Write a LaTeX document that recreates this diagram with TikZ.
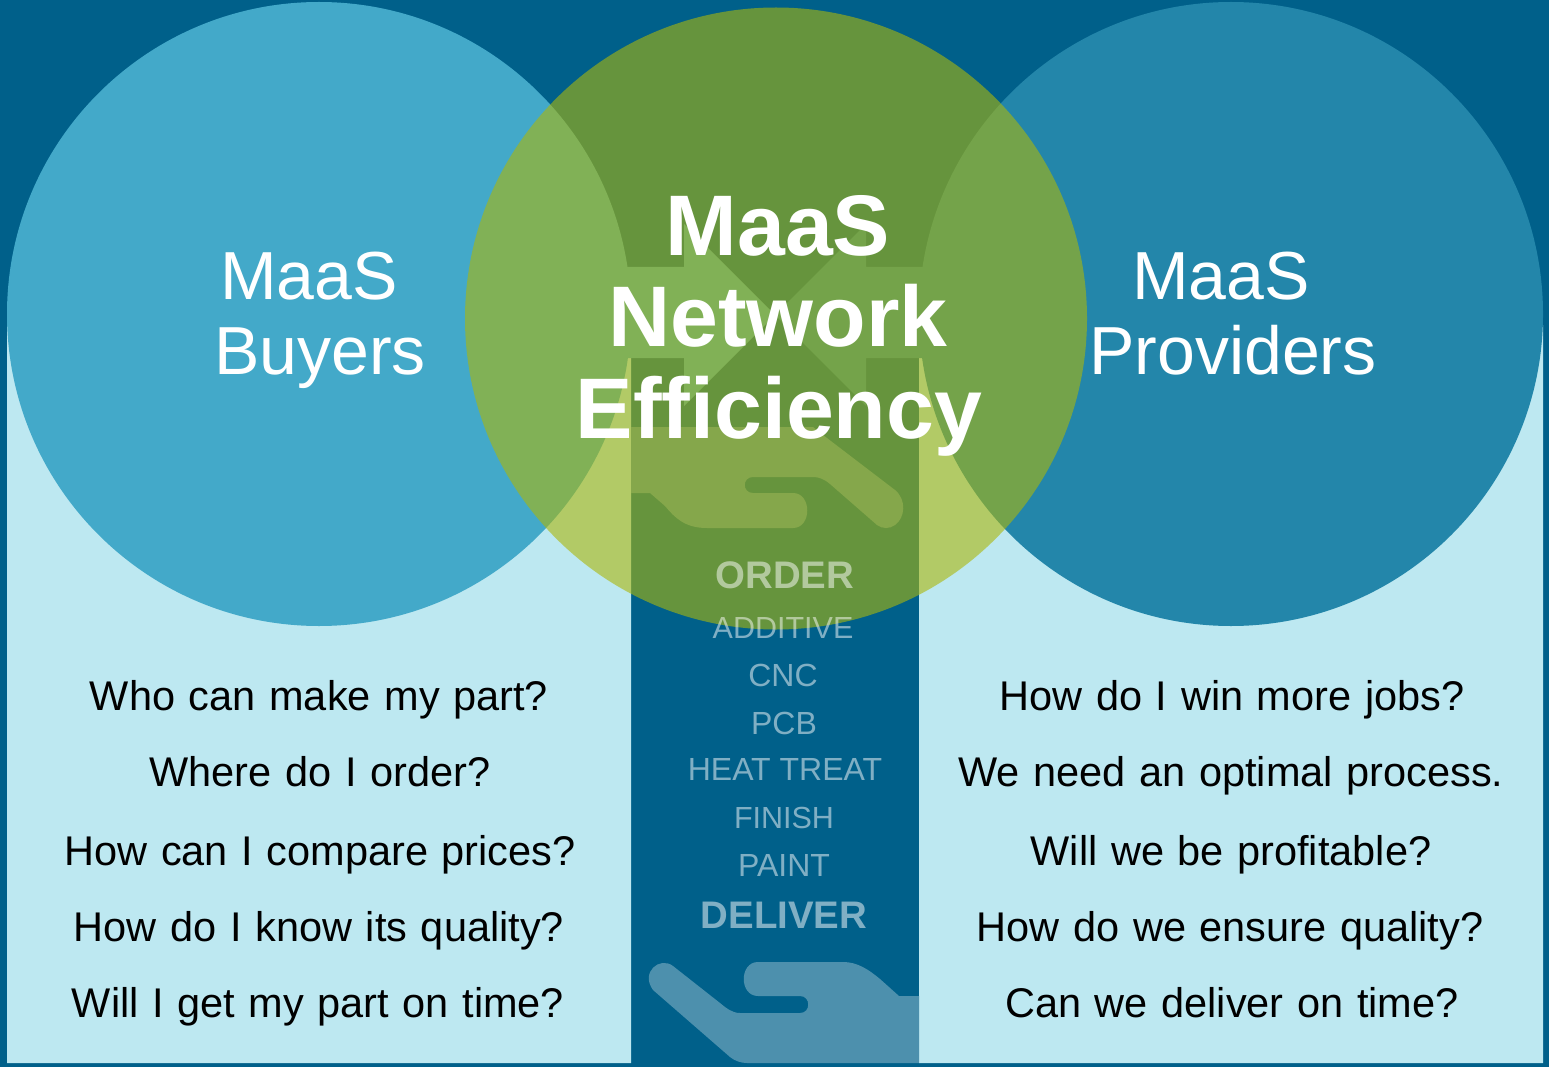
\documentclass[tikz,border=0pt]{standalone}
\usepackage{fontspec}
\setmainfont{Liberation Sans}
\newfontfamily\qfont[WordSpace=1.18]{Liberation Sans}
\definecolor{bgdark}{HTML}{00608A}
\definecolor{panel}{HTML}{BDE8F1}
\definecolor{cleft}{HTML}{43A9C9}
\definecolor{cright}{HTML}{2386AA}
\definecolor{hand}{HTML}{4D90AD}
\definecolor{cgreen}{RGB}{171,183,10}
\newcommand{\fs}[1]{\fontsize{#1pt}{#1pt}\selectfont}
\tikzset{
  x=1pt,y=-1pt,
  lbl/.style={anchor=base,inner sep=0pt,outer sep=0pt},
  question/.style={lbl,text=black,font=\qfont\fs{41.5}},
  sidetitle/.style={lbl,text=white,font=\fs{68}},
  maintitle/.style={lbl,text=white,font=\fs{86}\bfseries},
  stage/.style={lbl,text=white,text opacity=.5,font=\fs{32}},
  stagenarrow/.style={lbl,text=white,text opacity=.5,font=\fs{30.5}},
  stagebold/.style={lbl,text=white,text opacity=.5,font=\fs{38.4}\bfseries},
}
\begin{document}
\begin{tikzpicture}
\useasboundingbox (0,0) rectangle (1549,1067);
\fill[bgdark] (0,0) rectangle (1549,1067);
% light panels
\fill[panel] (7,325) -- (600,325) -- (600,358) -- (631,358) -- (631,1063) -- (7,1063) -- cycle;
\fill[panel] (1543,325) -- (950,325) -- (950,358) -- (919,358) -- (919,1063) -- (1543,1063) -- cycle;
% side circles
\fill[cleft] (319,314) circle (312);
\fill[cright] (1231,314) circle (312);
% arms of the cross
\fill[cleft] (684,224) -- (775,315) -- (684,406) -- (684,358) -- (620,358) -- (620,267) -- (684,267) -- cycle;
\fill[cright] (866,224) -- (775,315) -- (866,406) -- (866,358) -- (930,358) -- (930,267) -- (866,267) -- cycle;
% upper hand
\fill[hand] (631,427) -- (813,427) -- (823,435) -- (895,490)
  .. controls (907,500) and (905,518) .. (895,525)
  .. controls (890,529) and (882,529) .. (877,525)
  -- (830,484) .. controls (824,479) and (819,477) .. (813,477)
  -- (753,477) .. controls (742,477) and (742,493) .. (753,493)
  -- (793,493) .. controls (812,493) and (812,528) .. (793,528)
  -- (707,528) .. controls (685,528) and (675,518) .. (665,506)
  -- (650,493) -- (631,493) -- cycle;
% lower hand
\fill[hand] (919,996) -- (899,996) -- (880,979)
  .. controls (868,969) and (857,962) .. (843,962)
  -- (758,962) .. controls (739,962) and (739,996) .. (758,996)
  -- (800,996) .. controls (811,996) and (811,1013) .. (800,1013)
  -- (740,1013) .. controls (732,1013) and (726,1008) .. (720,1003)
  -- (673,966) .. controls (660,956) and (640,972) .. (653,990)
  -- (730,1057) .. controls (735,1061) and (741,1063) .. (747,1063)
  -- (919,1063) -- cycle;
% central circle
\fill[cgreen,fill opacity=.6] (776,318.5) circle (311);
% texts
\node[sidetitle] (buyA) at (309,299) {MaaS};
\node[sidetitle] (buyB) at (320,374) {Buyers};
\node[sidetitle] (proA) at (1221,299) {MaaS};
\node[sidetitle] (proB) at (1233,374) {Providers};
\node[maintitle] (mainA) at (778,255) {MaaS};
\node[maintitle] (mainB) at (778,346) {Network};
\node[maintitle] (mainC) at (779,438) {Efficiency};
\node[stagebold] (s1) at (785,588) {ORDER};
\node[stagenarrow] (s2) at (783,638) {ADDITIVE};
\node[stage] (s3) at (783,686) {CNC};
\node[stage] (s4) at (784,734) {PCB};
\node[stage] (s5) at (785,780) {HEAT TREAT};
\node[stagenarrow] (s6) at (784,828) {FINISH};
\node[stage] (s7) at (784,876) {PAINT};
\node[stagebold] (s8) at (784,928) {DELIVER};
\node[question] (q1) at (319,710) {Who can make my part?};
\node[question] (q2) at (320,786) {Where do I order?};
\node[question] (q3) at (320,865) {How can I compare prices?};
\node[question] (q4) at (319,941) {How do I know its quality?};
\node[question] (q5) at (318,1017) {Will I get my part on time?};
\node[question] (r1) at (1232,710) {How do I win more jobs?};
\node[question] (r2) at (1231,786) {We need an optimal process.};
\node[question] (r3) at (1231,865) {Will we be profitable?};
\node[question] (r4) at (1230,941) {How do we ensure quality?};
\node[question] (r5) at (1232,1017) {Can we deliver on time?};
\end{tikzpicture}
\end{document}
